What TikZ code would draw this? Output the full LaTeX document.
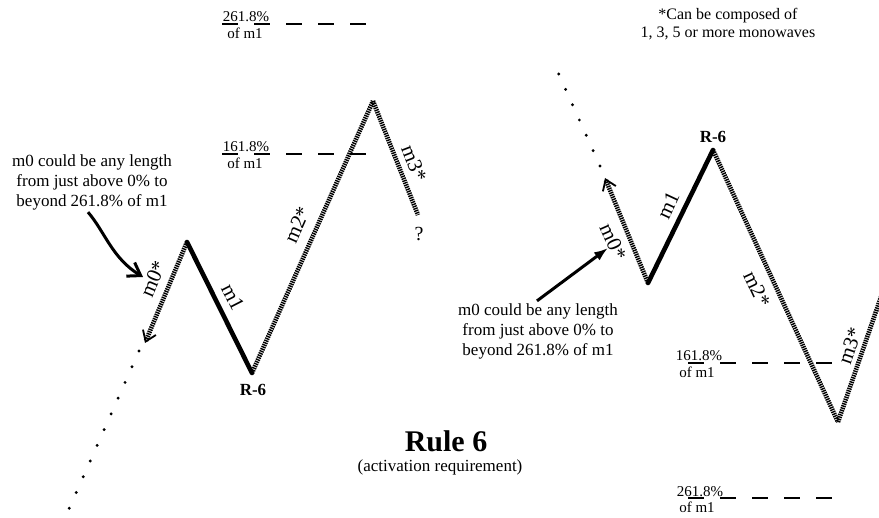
\documentclass[tikz,border=0pt]{standalone}
\usepackage{fontspec}
\setmainfont{Liberation Serif}
\usetikzlibrary{arrows.meta, positioning}

\begin{document}
\begin{tikzpicture}[x=0.5pt, y=-0.5pt,
  hatched/.style={line width=2.3pt, dash pattern=on 0.7pt off 0.45pt},
  impulse/.style={line width=2.3pt, line cap=round},
  trail/.style={line width=1.6pt, line cap=round, dash pattern=on 0pt off 8.6pt},
  fibline/.style={line width=1pt, dash pattern=on 8pt off 8pt},
  note/.style={font=\fontsize{8.5}{10}\selectfont, align=center, inner sep=1pt},
  fibtxt/.style={font=\fontsize{7.5}{8}\selectfont, inner sep=0.5pt},
  wavelbl/.style={font=\fontsize{10.5}{12}\selectfont, inner sep=0pt},
  peaklbl/.style={font=\bfseries\fontsize{8.5}{10}\selectfont, inner sep=0pt},
  m0tip/.style={-{Straight Barb[length=5pt, width=7pt, line width=0.9pt]}},
  pointer/.style={line width=1.5pt},
]
\useasboundingbox (0,0) rectangle (879,518);

% ---------- left pattern ----------
\coordinate (lA) at (187,242);
\coordinate (lB) at (252,373);
\coordinate (lC) at (373,101);
\coordinate (lD) at (418,215);
\coordinate (lTip) at (145,343);
\coordinate (lDot1) at (139,351);
\coordinate (lDot2) at (69,509);

% monowaves
\draw[hatched, m0tip] (lA) -- (lTip);
\draw[impulse] (lA) -- (lB);
\draw[hatched] (lB) -- (lC);
\draw[hatched] (lC) -- (lD);
\draw[trail] (lDot1) -- (lDot2);

% labels
\node[wavelbl, rotate=67] (lm0) at (153,279) {m0*};
\node[wavelbl, rotate=-63] (lm1) at (233,297) {m1};
\node[wavelbl, rotate=66] (lm2) at (297,225) {m2*};
\node[wavelbl, rotate=-69] (lm3) at (414,163) {m3*};
\node[font=\fontsize{10}{12}\selectfont] (lq) at (419,234) {?};
\node[peaklbl] (lR6) at (253,390) {R-6};

% fibonacci levels
\draw[fibline] (222,24) -- (367,24);
\node[fibtxt, anchor=base] (l261) at (246,22) {261.8\%};
\node[fibtxt, anchor=north] (l261of) at (245,27) {of m1};
\draw[fibline] (222,154) -- (367,154);
\node[fibtxt, anchor=base] (l161) at (246,152) {161.8\%};
\node[fibtxt, anchor=north] (l161of) at (245,157) {of m1};

% note on m0
\node[note] (noteL) at (92,182) {m0 could be any length\\from just above 0\% to\\beyond 261.8\% of m1};
\coordinate (lPoint) at (143,277);
\draw[pointer, -{Straight Barb[length=6pt, width=8pt]}] ([xshift=-2pt]noteL.south)
  .. controls (105,232) and (112,258) .. (lPoint);

% ---------- right pattern ----------
\coordinate (rA) at (648,283);
\coordinate (rB) at (713,150);
\coordinate (rC) at (838,422);
\coordinate (rD) at (882,294);
\coordinate (rTip) at (605,178);
\coordinate (rDot1) at (600,166);
\coordinate (rDot2) at (552,59);

% monowaves
\draw[hatched, m0tip] (rA) -- (rTip);
\draw[impulse] (rA) -- (rB);
\draw[hatched] (rB) -- (rC);
\draw[hatched] (rC) -- (rD);
\draw[trail, dash pattern=on 0pt off 8.4pt] (rDot1) -- (rDot2);

% labels
\node[wavelbl, rotate=-66] (rm0) at (613,242) {m0*};
\node[wavelbl, rotate=65] (rm1) at (668,205) {m1};
\node[wavelbl, rotate=-65] (rm2) at (757,289) {m2*};
\node[wavelbl, rotate=71] (rm3) at (850,346) {m3*};
\node[peaklbl] (rR6) at (713,137) {R-6};

% fibonacci levels
\draw[fibline, dash phase=8pt] (672,363) -- (832,363);
\node[fibtxt, anchor=base] (r161) at (699,361) {161.8\%};
\node[fibtxt, anchor=north] (r161of) at (697,366) {of m1};
\draw[fibline, dash phase=8pt] (672,498) -- (832,498);
\node[fibtxt, anchor=base] (r261) at (700,496) {261.8\%};
\node[fibtxt, anchor=north] (r261of) at (697,501) {of m1};

% note on m0
\node[note] (noteR) at (538,331) {m0 could be any length\\from just above 0\% to\\beyond 261.8\% of m1};
\coordinate (rPoint) at (608,248);
\draw[pointer, -{Latex[length=7pt, width=5pt]}] ([xshift=-0.5pt]noteR.north) -- (rPoint);

\node[font=\fontsize{8}{9}\selectfont, align=center] (compNote) at (728,24)
  {*Can be composed of\\1, 3, 5 or more monowaves};

% title
\node[font=\bfseries\fontsize{15}{18}\selectfont] (title) at (446,441) {Rule 6};
\node[font=\fontsize{8.5}{10}\selectfont] (subtitle) at (440,467) {(activation requirement)};

\end{tikzpicture}
\end{document}
